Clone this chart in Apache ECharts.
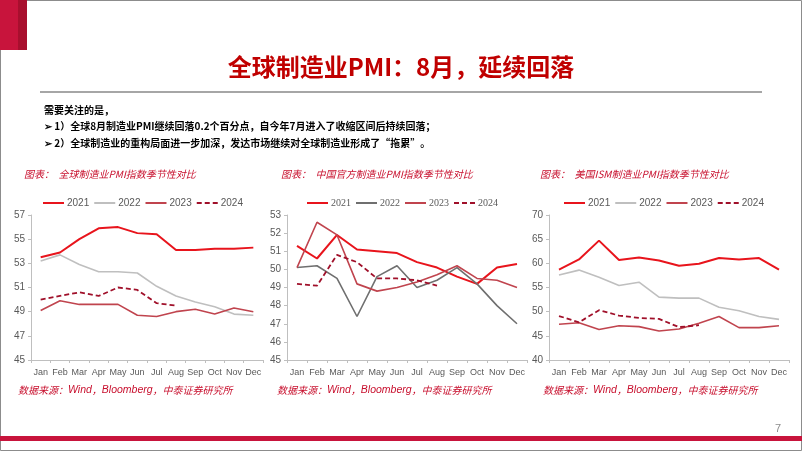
<!DOCTYPE html>
<html>
<head>
<meta charset="utf-8">
<script src="https://cdn.jsdelivr.net/npm/echarts@6/dist/echarts.min.js"></script>
<style>
html,body{margin:0;padding:0;background:#fff;}
#c{width:802px;height:451px;}
</style>
</head>
<body>
<div id="c"></div>
<script>
// ---- data ----
var months = ['Jan','Feb','Mar','Apr','May','Jun','Jul','Aug','Sep','Oct','Nov','Dec'];
var years = ['2021','2022','2023','2024'];

var global2021 = [53.5,53.9,55.0,55.9,56.0,55.5,55.4,54.1,54.1,54.2,54.2,54.3];
var global2022 = [53.2,53.7,52.9,52.3,52.3,52.2,51.1,50.3,49.8,49.4,48.8,48.7];
var global2023 = [49.1,49.9,49.6,49.6,49.6,48.7,48.6,49.0,49.2,48.8,49.3,49.0];
var global2024 = [50.0,50.3,50.6,50.3,51.0,50.8,49.7,49.5];

var china2021 = [51.3,50.6,51.9,51.1,51.0,50.9,50.4,50.1,49.6,49.2,50.1,50.3];
var china2022 = [50.1,50.2,49.5,47.4,49.6,50.2,49.0,49.4,50.1,49.2,48.0,47.0];
var china2023 = [50.1,52.6,51.9,49.2,48.8,49.0,49.3,49.7,50.2,49.5,49.4,49.0];
var china2024 = [49.2,49.1,50.8,50.4,49.5,49.5,49.4,49.1];

var ism2021 = [58.7,60.8,64.7,60.7,61.2,60.6,59.5,59.9,61.1,60.8,61.1,58.7];
var ism2022 = [57.6,58.6,57.1,55.4,56.1,53.0,52.8,52.8,50.9,50.2,49.0,48.4];
var ism2023 = [47.4,47.7,46.3,47.1,46.9,46.0,46.4,47.6,49.0,46.7,46.7,47.1];
var ism2024 = [49.1,47.8,50.3,49.2,48.7,48.5,46.8,47.2];

var yTicks1 = {min:45, max:57, interval:2};
var yTicks2 = {min:45, max:53, interval:1};
var yTicks3 = {min:40, max:70, interval:5};

// ---- styles ----
var RED = '#e8141c', LGRAY = '#bfbfbf', DGRAY = '#6f6f6f', MRED = '#c0444e', DRED = '#a0102a';
var axisColor = '#bfbfbf', labelColor = '#595959';
var sans = '"Liberation Sans",Arial,sans-serif';
var serif = '"Liberation Serif","Times New Roman",serif';

var grids = [
  {left:31, width:232, top:215, height:145},
  {left:287, width:240, top:215, height:145},
  {left:549, width:240, top:215, height:145}
];

function xAxis(i){
  return {type:'category', gridIndex:i, data:months, boundaryGap:true,
    axisLine:{lineStyle:{color:axisColor}},
    axisTick:{show:true, length:3, lineStyle:{color:axisColor}},
    axisLabel:{color:labelColor, fontSize:9, fontFamily:sans, margin:8, interval:0}};
}
function yAxis(i, t){
  return {type:'value', gridIndex:i, min:t.min, max:t.max, interval:t.interval,
    axisLine:{show:true, lineStyle:{color:axisColor}},
    axisTick:{show:true, length:3, lineStyle:{color:axisColor}},
    splitLine:{show:false},
    axisLabel:{color:labelColor, fontSize:10, fontFamily:sans, margin:6}};
}
function ser(prefix, year, idx, data, color, width, dashed){
  return {name:prefix+year, type:'line', xAxisIndex:idx, yAxisIndex:idx, data:data,
    symbol:'none', smooth:false, animation:false,
    lineStyle:{color:color, width:width, type: dashed ? [5,3] : 'solid'},
    itemStyle:{color:color}};
}
function legend(prefix, left, font, gap){
  return {left:left, top:193, itemWidth:21, itemHeight:12, itemGap:gap,
    itemStyle:{opacity:0},
    data: years.map(function(y){return prefix+y;}),
    formatter:function(n){return n.slice(1);},
    textStyle:{color:labelColor, fontSize:10, fontFamily:font, padding:[0,0,0,-2]}};
}

var series = [
  ser('a','2021',0,global2021,RED,2), ser('a','2022',0,global2022,LGRAY,1.6),
  ser('a','2023',0,global2023,MRED,1.6), ser('a','2024',0,global2024,DRED,1.8,true),
  ser('b','2021',1,china2021,RED,2), ser('b','2022',1,china2022,DGRAY,1.6),
  ser('b','2023',1,china2023,MRED,1.6), ser('b','2024',1,china2024,DRED,1.8,true),
  ser('c','2021',2,ism2021,RED,2), ser('c','2022',2,ism2022,LGRAY,1.6),
  ser('c','2023',2,ism2023,MRED,1.6), ser('c','2024',2,ism2024,DRED,1.8,true)
];

var TITLE_RED = '#c00000';
var SRC_RED = '#c8102e';
var cjk = '"Noto Sans CJK SC",sans-serif';
var srcRich = {
  a:{fontFamily:cjk, fontStyle:'italic', fontSize:10, fill:SRC_RED},
  b:{fontFamily:sans, fontStyle:'italic', fontSize:10.5, fill:SRC_RED}
};
function srcText(x){
  return {type:'text', left:x, top:385, style:{
    text:'{a|数据来源：}{b|Wind}{a|，}{b|Bloomberg}{a|，中泰证券研究所}', fill:SRC_RED, rich:srcRich}};
}
function chartTitle(x, t){
  return {type:'text', left:x, top:169, style:{text:'图表：  '+t, fill:SRC_RED,
    font:'italic 10px '+cjk}};
}

var graphic = [
  {type:'rect', shape:{x:0.5,y:0.5,width:801,height:450}, style:{fill:'none', stroke:'#8c8c8c', lineWidth:1}},
  {type:'rect', shape:{x:0,y:0,width:18,height:50}, style:{fill:'#c8143c'}},
  {type:'rect', shape:{x:18,y:0,width:9,height:50}, style:{fill:'#a80f2e'}},
  {type:'text', left:'center', top:55, style:{text:'全球制造业PMI：8月，延续回落', fill:TITLE_RED,
    font:'bold 24px '+cjk}},
  {type:'rect', shape:{x:40,y:91,width:722,height:2}, style:{fill:'#a6a6a6'}},
  {type:'text', left:44, top:105, style:{text:'需要关注的是，', fill:'#000', font:'bold 10px '+cjk}},
  {type:'text', left:44, top:121, style:{text:'➢ 1）全球8月制造业PMI继续回落0.2个百分点，自今年7月进入了收缩区间后持续回落；', fill:'#000', font:'bold 10px '+cjk}},
  {type:'text', left:44, top:138, style:{text:'➢ 2）全球制造业的重构局面进一步加深，发达市场继续对全球制造业形成了“拖累”。', fill:'#000', font:'bold 10px '+cjk}},
  chartTitle(24,'全球制造业PMI指数季节性对比'),
  chartTitle(281,'中国官方制造业PMI指数季节性对比'),
  chartTitle(540,'美国ISM制造业PMI指数季节性对比'),
  srcText(18), srcText(277), srcText(543),
  {type:'text', left:775, top:423, style:{text:'7', fill:'#8c8c8c', font:'11px "Liberation Sans",Arial'}},
  {type:'rect', shape:{x:0,y:436,width:802,height:5}, style:{fill:'#c8143c'}}
];

var chart = echarts.init(document.getElementById('c'), null, {renderer:'canvas'});
chart.setOption({
  animation:false,
  backgroundColor:'#fff',
  grid:grids,
  xAxis:[xAxis(0),xAxis(1),xAxis(2)],
  yAxis:[yAxis(0,yTicks1),yAxis(1,yTicks2),yAxis(2,yTicks3)],
  legend:[legend('a',37,sans,4), legend('b',301,serif,4), legend('c',558,sans,4)],
  series:series,
  graphic:graphic
});
</script>
</body>
</html>
